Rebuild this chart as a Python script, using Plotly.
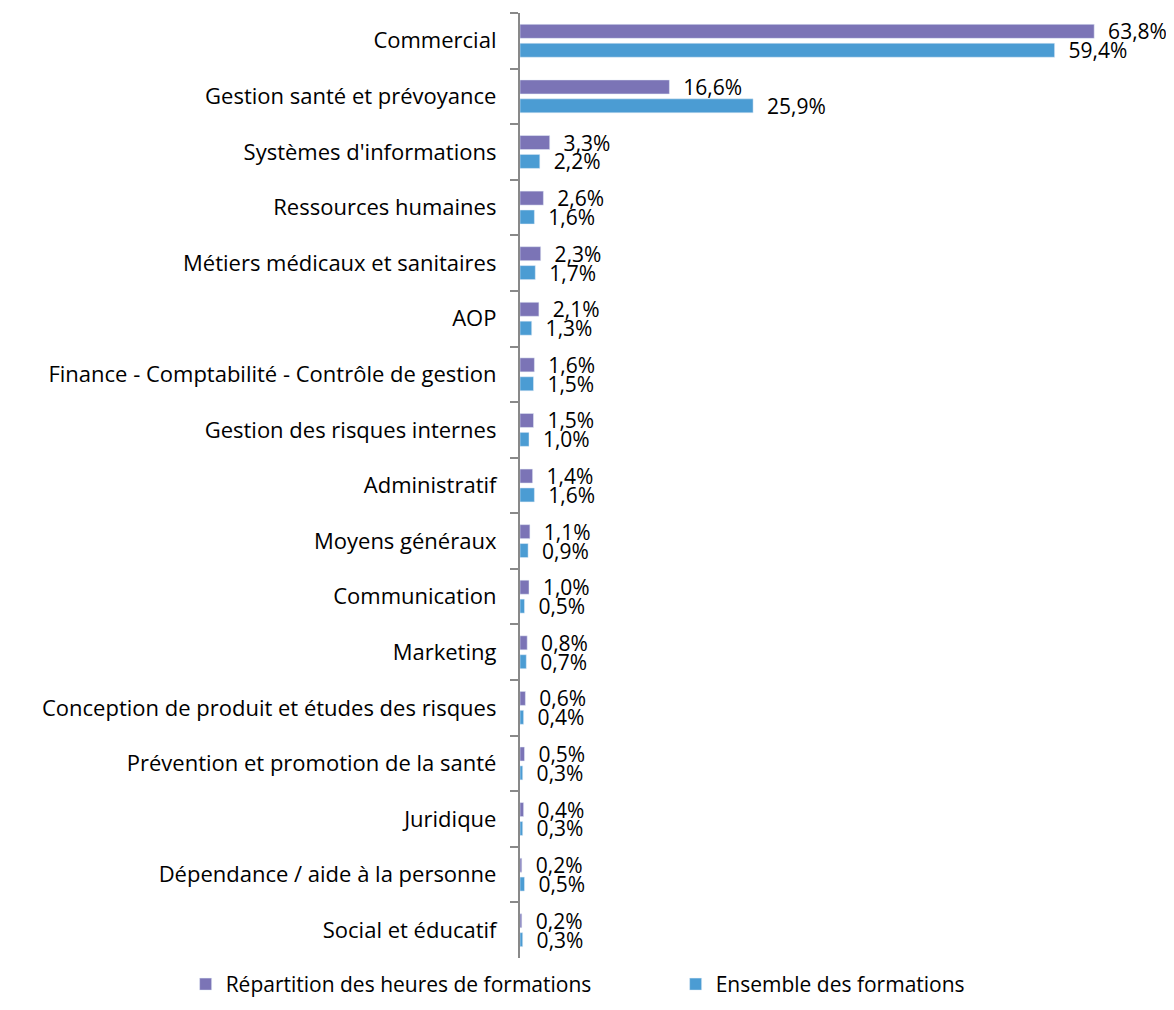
import plotly.graph_objects as go

categories = [
    "Commercial", "Gestion santé et prévoyance", "Systèmes d'informations",
    "Ressources humaines", "Métiers médicaux et sanitaires", "AOP",
    "Finance - Comptabilité - Contrôle de gestion", "Gestion des risques internes",
    "Administratif", "Moyens généraux", "Communication", "Marketing",
    "Conception de produit et études des risques", "Prévention et promotion de la santé",
    "Juridique", "Dépendance / aide à la personne", "Social et éducatif",
]
heures = [63.8, 16.6, 3.3, 2.6, 2.3, 2.1, 1.6, 1.5, 1.4, 1.1, 1.0, 0.8, 0.6, 0.5, 0.4, 0.2, 0.2]
ensemble = [59.4, 25.9, 2.2, 1.6, 1.7, 1.3, 1.5, 1.0, 1.6, 0.9, 0.5, 0.7, 0.4, 0.3, 0.3, 0.5, 0.3]

FONT = "Open Sans, Noto Sans, sans-serif"


def fmt(v):
    return "  " + f"{v:.1f}".replace(".", ",") + "%"


fig = go.Figure()
fig.add_trace(go.Bar(
    y=categories, x=heures, orientation="h", name="Répartition des heures de formations",
    marker_color="#7B74B6", text=[fmt(v) for v in heures], textposition="outside",
    constraintext="none",
    textfont=dict(size=21, color="#000000", family=FONT), cliponaxis=False,
))
fig.add_trace(go.Bar(
    y=categories, x=ensemble, orientation="h", name="Ensemble des formations",
    marker_color="#4B9CD3", text=[fmt(v) for v in ensemble], textposition="outside",
    constraintext="none",
    textfont=dict(size=21, color="#000000", family=FONT), cliponaxis=False,
))

fig.update_layout(
    width=1166, height=1002,
    margin=dict(l=512, r=6, t=5, b=52, autoexpand=False),
    paper_bgcolor="white", plot_bgcolor="white",
    barmode="group", bargap=0.32, bargroupgap=0.26,
    font=dict(family=FONT, size=21, color="#000000"),
    legend=dict(orientation="h", x=-0.516, xanchor="left",
                y=-0.028, yanchor="middle",
                font=dict(size=21), itemwidth=30, entrywidth=445),
)
fig.update_xaxes(range=[0, 72], visible=False, showgrid=False)
fig.update_yaxes(
    autorange="reversed", showline=True, linecolor="#898989", linewidth=2,
    ticks="outside", tickson="boundaries", ticklen=8, tickcolor="#898989", tickwidth=2,
    showgrid=False, ticksuffix="   ", tickfont=dict(size=22), automargin=False,
)

fig.write_html("out.html")
